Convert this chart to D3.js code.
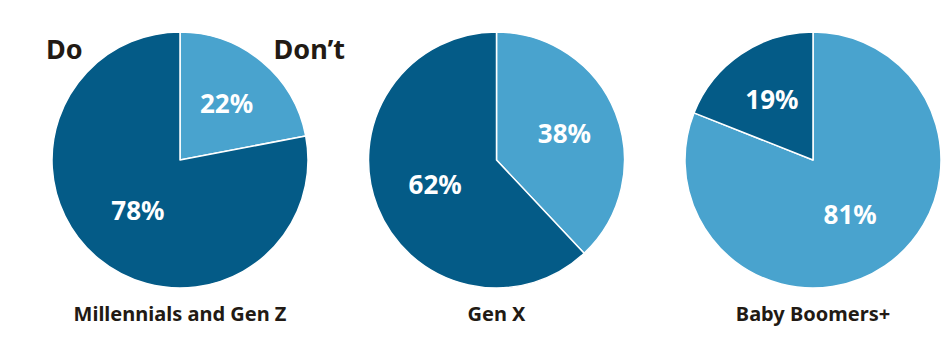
<!DOCTYPE html>
<html>
    <head>
        <title></title>
        <style>
            body { margin: 0; background: #fff; }
            text { font-family: "Noto Sans", "Open Sans", sans-serif; font-weight: bold; }
        </style>
    </head>
    <body>
        <script src="https://cdnjs.cloudflare.com/ajax/libs/d3/7.8.5/d3.min.js" charset="utf-8"></script>
        <script>

        // data
        var groups = ["Millennials and Gen Z", "Gen X", "Baby Boomers+"];
        var dontValues = [22, 38, 81];
        var doValues = [78, 62, 19];
        var answers = ["Don\u2019t", "Do"];

        var w = 946;
        var h = 348;
        var radius = 128;
        var cy = 160;

        var colors = d3.scaleOrdinal()
                       .domain(answers)
                       .range(["#49a3ce", "#045b87"]);

        var xScale = d3.scalePoint()
                       .domain(groups)
                       .range([180, 813]);

        var svg = d3.select("body")
                    .append("svg")
                    .attr("width", w)
                    .attr("height", h);

        var pie = d3.pie()
                    .sort(null)
                    .value(function(d) { return d.value; });

        var arc = d3.arc().innerRadius(0).outerRadius(radius);
        // small slices get their label further out, big ones nearer the middle
        var smallLabelArc = d3.arc().innerRadius(0).outerRadius(146);
        var bigLabelArc = d3.arc().innerRadius(0).outerRadius(132);

        groups.forEach(function(g, i) {
            var slices = [
                { answer: answers[0], value: dontValues[i] },
                { answer: answers[1], value: doValues[i] }
            ];

            var pg = svg.append("g")
                        .attr("transform", "translate(" + xScale(g) + "," + cy + ")");

            pg.selectAll("path")
              .data(pie(slices))
              .enter()
              .append("path")
              .attr("d", arc)
              .attr("fill", function(d) { return colors(d.data.answer); })
              .attr("stroke", "#fff")
              .attr("stroke-width", 1.5)
              .attr("stroke-linejoin", "round");

            pg.selectAll("text.pct")
              .data(pie(slices))
              .enter()
              .append("text")
              .attr("class", "pct")
              .attr("transform", function(d) {
                  var a = d.data.value < 50 ? smallLabelArc : bigLabelArc;
                  return "translate(" + a.centroid(d) + ")";
              })
              .attr("text-anchor", "middle")
              .attr("dy", "0.36em")
              .attr("fill", "#fff")
              .style("font-size", "26px")
              .text(function(d) { return d.data.value + "%"; });

            svg.append("text")
               .attr("x", xScale(g))
               .attr("y", 321)
               .attr("text-anchor", "middle")
               .attr("fill", "#221a14")
               .style("font-size", "20px")
               .text(g);
        });

        // legend-style labels on first pie
        svg.append("text")
           .attr("x", 46)
           .attr("y", 59)
           .attr("fill", "#221a14")
           .style("font-size", "27px")
           .text(answers[1]);

        svg.append("text")
           .attr("x", 345)
           .attr("y", 59)
           .attr("text-anchor", "end")
           .attr("fill", "#221a14")
           .style("font-size", "27px")
           .text(answers[0]);

        </script>
    </body>
</html>
